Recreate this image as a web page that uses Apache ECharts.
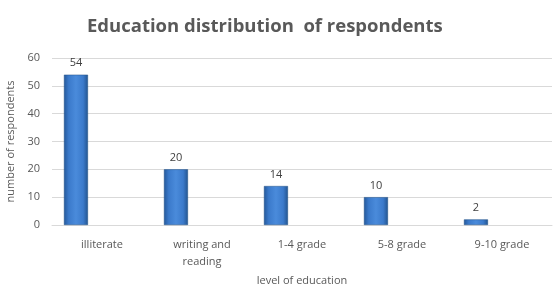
<!DOCTYPE html>
<html>
<head>
<meta charset="utf-8">
<script src="https://cdn.jsdelivr.net/npm/echarts@6/dist/echarts.min.js"></script>
<style>
  html, body { margin: 0; padding: 0; background: #fff; }
  #mychart { width: 554px; height: 286px; }
</style>
</head>
<body>
<div id="mychart"></div>
<script>
// data
const categories = ['illiterate', 'writing and\nreading', '1-4 grade', '5-8 grade', '9-10 grade'];
const respondents = [54, 20, 14, 10, 2];
const yTicks = { min: 0, max: 60, interval: 10 };

const font = '"Open Sans", "Noto Sans", sans-serif';

const barColor = new echarts.graphic.LinearGradient(0, 0, 1, 0, [
  { offset: 0, color: '#24589a' },
  { offset: 0.2, color: '#3b7acb' },
  { offset: 0.5, color: '#4a8bdb' },
  { offset: 0.8, color: '#3b7acb' },
  { offset: 1, color: '#22548f' }
]);

const option = {
  animation: false,
  title: {
    text: 'Education distribution  of respondents',
    left: 82,
    top: 12,
    textStyle: { fontFamily: font, fontSize: 18.5, fontWeight: 'bold', color: '#595959' }
  },
  grid: { left: 52, right: 2, top: 58, bottom: 61, outerBoundsMode: 'none' },
  xAxis: {
    type: 'category',
    data: categories,
    name: 'level of education',
    nameLocation: 'middle',
    nameGap: 49,
    nameTextStyle: { fontFamily: font, fontSize: 11, color: '#595959' },
    axisLine: { lineStyle: { color: '#d9d9d9' } },
    axisTick: { show: false },
    axisLabel: { fontFamily: font, fontSize: 11, color: '#595959', margin: 11, lineHeight: 17, interval: 0 }
  },
  yAxis: {
    type: 'value',
    min: yTicks.min,
    max: yTicks.max,
    interval: yTicks.interval,
    name: 'number of respondents',
    nameLocation: 'middle',
    nameGap: 30,
    nameTextStyle: { fontFamily: font, fontSize: 11, color: '#595959' },
    axisLabel: { fontFamily: font, fontSize: 11, color: '#595959', margin: 12 },
    splitLine: { lineStyle: { color: '#d9d9d9' } }
  },
  series: [
    {
      type: 'bar',
      data: respondents,
      barWidth: 24,
      barGap: '117%',
      itemStyle: { color: barColor, borderColor: '#1f4e85', borderWidth: 0.5 },
      label: { show: true, position: 'top', distance: 6, fontFamily: font, fontSize: 11, color: '#404040' }
    },
    {
      type: 'bar',
      data: respondents.map(() => '-'),
      barWidth: 24
    }
  ]
};

const myChart = echarts.init(document.getElementById('mychart'));
myChart.setOption(option);
</script>
</body>
</html>
